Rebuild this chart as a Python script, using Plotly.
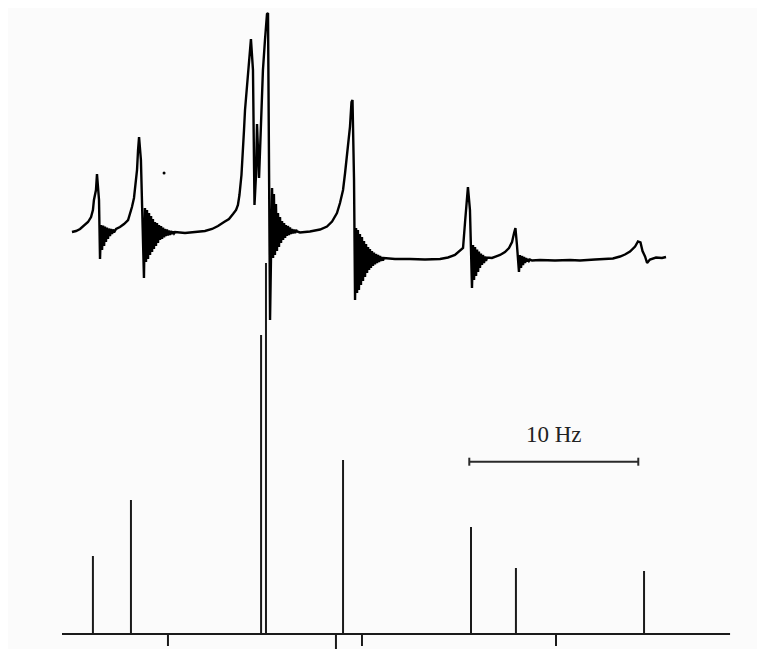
import plotly.graph_objects as go

# Experimental trace (x in Hz, y in arbitrary intensity units)
trace_hz = [0.59, 0.83, 1.07, 1.30, 1.54, 1.72, 1.83, 1.89, 2.01, 2.07, 2.19, 2.25,
            # ringing after line 1
            2.31, 2.37, 2.43, 2.49, 2.54, 2.60, 2.66, 2.72, 2.78, 2.84, 2.90, 2.96,
            3.02, 3.08, 3.20,
            3.43, 3.67, 3.91, 4.02, 4.14, 4.26, 4.32, 4.44, 4.50, 4.56,
            4.67, 4.73, 4.85,
            # ringing after line 2
            4.91, 4.97, 5.03, 5.09, 5.15, 5.21, 5.27, 5.33, 5.38, 5.44, 5.50, 5.56,
            5.62, 5.68, 5.74, 5.80, 5.86, 5.92, 5.98, 6.04, 6.09, 6.15, 6.21, 6.27,
            6.33, 6.39, 6.45, 6.51, 6.57, 6.63, 6.69,
            7.28, 7.87, 8.46, 8.88, 9.23, 9.59, 9.88, 10.12, 10.30, 10.41, 10.50,
            10.62, 10.68, 10.77, 10.83, 10.92, 11.01, 11.12, 11.18,
            11.30, 11.33, 11.39,
            11.48, 11.54, 11.66, 11.78, 11.89, 12.01, 12.13, 12.19,
            12.31,
            # ringing after central group
            12.43, 12.49, 12.54, 12.60, 12.66, 12.72, 12.78, 12.84, 12.90, 12.96,
            13.02, 13.08, 13.14, 13.20, 13.25, 13.31, 13.37, 13.43, 13.49, 13.55,
            13.61, 13.67, 13.73, 13.79, 13.85, 13.91,
            14.08, 14.67, 15.27, 15.68, 15.98, 16.27, 16.45, 16.63, 16.75, 16.86,
            16.95, 17.04, 17.13, 17.19,
            17.28, 17.34,
            # ringing after line 4
            17.40, 17.46, 17.51, 17.57, 17.63, 17.69, 17.75, 17.81, 17.87, 17.93,
            17.99, 18.05, 18.11, 18.17, 18.22, 18.28, 18.34, 18.40, 18.46, 18.52,
            18.58, 18.64, 18.70, 18.76, 18.82, 18.88, 18.93, 18.99, 19.05,
            19.70, 20.59, 21.48, 22.37, 22.84, 23.25, 23.61, 23.73, 23.85, 23.91, 24.02,
            24.14, 24.26,
            # ringing after line 5
            24.32, 24.38, 24.44, 24.50, 24.56, 24.62, 24.67, 24.73, 24.79, 24.85,
            24.91, 24.97, 25.03, 25.09, 25.15,
            25.44, 25.92, 26.21, 26.45, 26.63, 26.75, 26.83,
            26.92, 27.04,
            # ringing after line 6
            27.10, 27.16, 27.22, 27.28, 27.34, 27.40, 27.46, 27.51, 27.57, 27.63, 27.69,
            27.81,
            28.28, 29.17, 30.06, 30.65, 31.54, 32.60, 33.02, 33.31, 33.61, 33.91,
            34.08, 34.23, 34.35, 34.50, 34.62, 34.79, 35.15, 35.50, 35.74]
trace_int = [80.4, 80.6, 81.0, 81.6, 82.4, 83.4, 84.8, 86.8, 88.8, 92.0, 86.8, 75.0,
             81.8, 76.8, 81.7, 77.6, 81.5, 78.4, 81.3, 79.0, 81.1, 79.6, 81.0, 80.0,
             80.9, 80.3, 81.0,
             81.4, 82.0, 82.8, 84.0, 85.4, 87.2, 88.8, 92.8, 96.8, 99.4,
             94.8, 86.8, 71.2,
             85.2, 74.4, 84.8, 75.0, 84.2, 75.8, 83.6, 76.4, 83.0, 77.0, 82.4, 77.6,
             82.2, 78.2, 81.8, 78.8, 81.6, 79.0, 81.3, 79.3, 81.0, 79.6, 80.9, 79.7,
             80.7, 79.8, 80.6, 80.0, 80.5, 80.1, 80.4,
             80.2, 80.4, 80.6, 81.0, 81.6, 82.4, 83.0, 84.0, 84.8, 85.8, 87.8,
             91.8, 94.8, 100.8, 104.8, 108.8, 112.4, 116.8, 119.0,
             112.8, 98.8, 85.8,
             91.8, 102.0, 91.2, 102.8, 112.8, 118.8, 124.0, 124.2,
             62.8,
             89.2, 75.2, 88.0, 75.8, 86.0, 76.6, 84.2, 77.4, 83.4, 78.2,
             82.6, 78.8, 82.2, 79.2, 81.8, 79.6, 81.6, 79.8, 81.3, 80.0,
             81.0, 80.1, 80.9, 80.2, 80.8, 80.5,
             80.3, 80.5, 80.9, 81.5, 82.5, 84.2, 86.2, 88.8, 92.2, 95.4,
             98.8, 101.4, 106.4, 106.8,
             90.8, 66.8,
             81.2, 68.2, 80.8, 68.8, 80.0, 69.8, 79.4, 70.6, 78.6, 71.4,
             78.0, 72.2, 77.4, 72.8, 77.0, 73.2, 76.6, 73.6, 76.3, 73.9,
             76.0, 74.2, 75.8, 74.4, 75.6, 74.6, 75.4, 74.7, 75.2,
             75.0, 75.0, 74.9, 75.0, 75.3, 75.8, 76.8, 77.2, 82.4, 84.4, 89.4,
             84.8, 69.2,
             77.8, 70.8, 77.4, 71.6, 76.9, 72.4, 76.5, 73.2, 76.1, 73.8,
             75.8, 74.2, 75.5, 74.6, 75.3,
             75.2, 75.8, 76.4, 77.2, 78.4, 80.2, 81.2,
             77.8, 72.4,
             75.8, 73.2, 75.6, 73.8, 75.4, 74.2, 75.2, 74.5, 75.0, 74.6, 74.9,
             74.7,
             74.8, 74.7, 74.8, 74.7, 74.9, 75.1, 75.5, 75.9, 76.5, 77.5,
             78.5, 78.3, 76.6, 75.5, 74.2, 74.9, 75.3, 75.2, 75.4]

# Stray dot on the trace plot
dot_hz = [6.04]
dot_int = [92.2]

# Calculated stick spectrum
stick_hz = [1.83, 4.08, 11.78, 12.07, 16.63, 24.20, 26.86, 34.44]
stick_int = [15.6, 26.8, 59.8, 74.2, 34.8, 21.4, 13.2, 12.6]

# Frequency axis baseline and markers below it
axis_hz = [0.0, 39.53]
marker_hz = [6.27, 16.21, 17.75, 29.23]
marker_len = [2.4, 3.4, 2.4, 2.4]

# Scale bar
bar_start_hz = 24.10
bar_width_hz = 10.0
bar_level = 34.46
bar_label = "10 Hz"

fig = go.Figure()

# stick spectrum
sx, sy = [], []
for x, h in zip(stick_hz, stick_int):
    sx += [x, x, None]
    sy += [0, h, None]
fig.add_trace(go.Scatter(x=sx, y=sy, mode="lines",
                         line=dict(color="#1a1a1a", width=2), hoverinfo="skip"))

# baseline
fig.add_trace(go.Scatter(x=axis_hz, y=[0, 0], mode="lines",
                         line=dict(color="#1a1a1a", width=2), hoverinfo="skip"))

# markers below baseline
mx, my = [], []
for x, l in zip(marker_hz, marker_len):
    mx += [x, x, None]
    my += [0, -l, None]
fig.add_trace(go.Scatter(x=mx, y=my, mode="lines",
                         line=dict(color="#1a1a1a", width=2), hoverinfo="skip"))

# experimental trace
fig.add_trace(go.Scatter(x=trace_hz, y=trace_int, mode="lines",
                         line=dict(color="black", width=2.4), hoverinfo="skip"))
fig.add_trace(go.Scatter(x=dot_hz, y=dot_int, mode="markers",
                         marker=dict(color="black", size=3), hoverinfo="skip"))

# scale bar
b0, b1 = bar_start_hz, bar_start_hz + bar_width_hz
fig.add_trace(go.Scatter(x=[b0, b1, None, b0, b0, None, b1, b1],
                         y=[bar_level, bar_level, None,
                            bar_level - 0.8, bar_level + 0.8, None,
                            bar_level - 0.8, bar_level + 0.8],
                         mode="lines", line=dict(color="#2a2a2a", width=2),
                         hoverinfo="skip"))
fig.add_annotation(x=(b0 + b1) / 2, y=bar_level + 5.4, text=bar_label,
                   showarrow=False, xanchor="center", yanchor="middle",
                   font=dict(family="Liberation Serif", size=23, color="#222222"))

fig.update_layout(
    width=765, height=649,
    margin=dict(l=0, r=0, t=0, b=0),
    paper_bgcolor="#fbfbfb", plot_bgcolor="#fbfbfb",
    showlegend=False,
    xaxis=dict(range=[-3.195, 42.071], visible=False, fixedrange=True),
    yaxis=dict(range=[-4.6, 125.2], visible=False, fixedrange=True),
)

fig.write_html("out.html")
